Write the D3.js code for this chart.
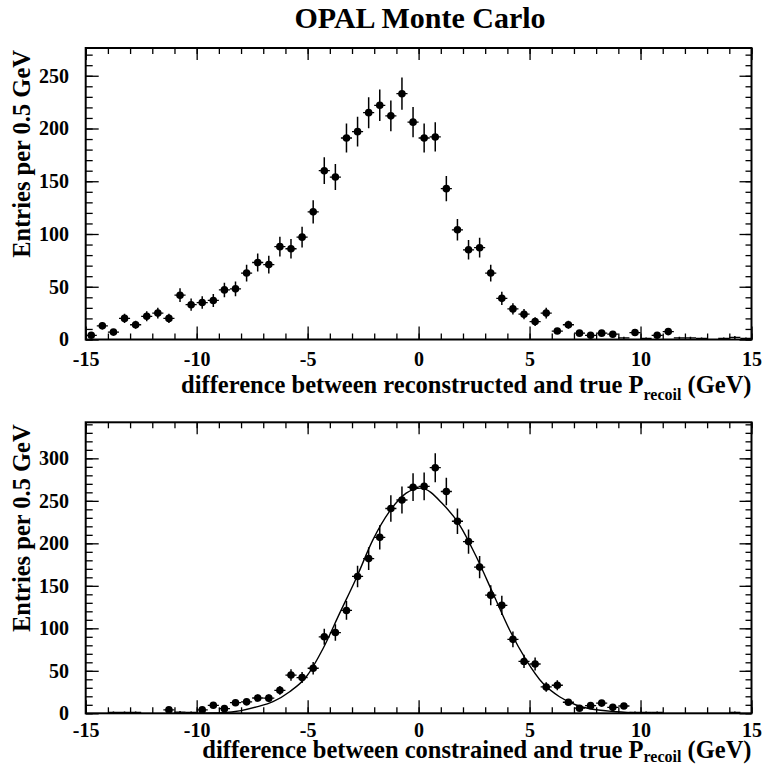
<!DOCTYPE html>
<html><head><meta charset="utf-8">
<script src="https://cdn.jsdelivr.net/npm/d3@7"></script>
<style>
body{margin:0;background:#fff}
svg{display:block}
text{font-family:"Liberation Serif","Times New Roman",serif;font-weight:bold;fill:#000}
</style>
</head><body><svg id="c" width="762" height="765"></svg>
<script>
// ---- data ----
const title = "OPAL Monte Carlo";
const binCenters = [-14.75,-14.25,-13.75,-13.25,-12.75,-12.25,-11.75,-11.25,-10.75,-10.25,
  -9.75,-9.25,-8.75,-8.25,-7.75,-7.25,-6.75,-6.25,-5.75,-5.25,
  -4.75,-4.25,-3.75,-3.25,-2.75,-2.25,-1.75,-1.25,-0.75,-0.25,
  0.25,0.75,1.25,1.75,2.25,2.75,3.25,3.75,4.25,4.75,
  5.25,5.75,6.25,6.75,7.25,7.75,8.25,8.75,9.25,9.75,
  10.25,10.75,11.25,11.75,12.25,12.75,13.25,13.75,14.25,14.75];
const binHalfWidth = 0.25;
const topValues = [4,13,7,20,14,22,25,20,42,33,
  35,37,47,48,63,73,71,88,86,97,
  121,160,154,191,197,215,222,212,233,206,
  191,192,143,104,85,87,63,39,29,24,
  17,25,8,14,6,4,6,5,1.5,6.6,
  1,4,7.5,1.5,1.5,1,0,1,2,1];
const bottomValues = [0,0,1,1,1,0,0,4,1.5,1,
  4,9.4,5.5,12.5,13.5,18,17.8,27,45,42,
  53,90,95,121,161,182,207,241,251,266,
  267,289,261,226,202,172,139,127,87,61,
  58,31,33,13,6,9,12,7,8.6,1,
  1,1,0,0,0,0,0,0,1,0];
// fitted curve of the lower panel
const fitX = [-11,-10,-8.8,-8,-7.3,-6.56,-5.81,-5.06,-4.31,-3.56,-2.81,-2.06,-1.31,-0.56,0.1,1.1,1.85,2.6,3.35,4.1,4.85,5.6,6.35,7.1,7.85,8.9,10,11];
const fitY = [0.05,0.2,0.8,3.2,7.5,13.7,25.4,43,76,117.6,159,204,237.5,259,265,246,221.5,184.2,141.2,98,62.7,35.3,19.5,9.8,4.7,1.9,0.5,0.1];
const xMajorTicks = [-15,-10,-5,0,5,10,15];
const topYTicks = [0,50,100,150,200,250];
const bottomYTicks = [0,50,100,150,200,250,300];
const topXTitle = ["difference between reconstructed and true P","recoil"," (GeV)"];
const bottomXTitle = ["difference between constrained and true P","recoil"," (GeV)"];
const yTitle = "Entries per 0.5 GeV";

// ---- layout ----
const svg = d3.select("#c");
const L = 85.7, R = 751.5;
const panels = [
  {top:48, bottom:339.5, ymax:276.3, values:topValues, yTicks:topYTicks, xTitle:topXTitle, labPad:12.3, titleY:393, subDy:7, fit:false},
  {top:422.3, bottom:713.3, ymax:342.4, values:bottomValues, yTicks:bottomYTicks, xTitle:bottomXTitle, labPad:10, titleY:757.5, subDy:4.5, fit:true}
];

svg.append("text").attr("x", 420).attr("y", 28).attr("text-anchor","middle")
  .style("font-size","30px").text(title);

panels.forEach((p, pi) => {
  const x = d3.scaleLinear().domain([-15, 15]).range([L, R]);
  const y = d3.scaleLinear().domain([0, p.ymax]).range([p.bottom, p.top]);
  const g = svg.append("g");
  const xMinor = d3.range(-15, 15.01, 1);
  const yMinor = d3.range(0, p.ymax, 10);
  const H = p.bottom - p.top, W = R - L;

  const tickStyle = sel => { sel.select(".domain").remove(); sel.selectAll("line").attr("stroke","#000").attr("stroke-width",1.3); sel.selectAll("text").remove(); };
  // bottom & top ticks
  g.append("g").attr("transform",`translate(0,${p.bottom})`).call(d3.axisBottom(x).tickValues(xMinor).tickSize(-6)).call(tickStyle);
  g.append("g").attr("transform",`translate(0,${p.bottom})`).call(d3.axisBottom(x).tickValues(xMajorTicks).tickSize(-13)).call(tickStyle);
  g.append("g").attr("transform",`translate(0,${p.top})`).call(d3.axisTop(x).tickValues(xMinor).tickSize(-6)).call(tickStyle);
  g.append("g").attr("transform",`translate(0,${p.top})`).call(d3.axisTop(x).tickValues(xMajorTicks).tickSize(-12)).call(tickStyle);
  // left & right ticks
  g.append("g").attr("transform",`translate(${L},0)`).call(d3.axisLeft(y).tickValues(yMinor).tickSize(-7)).call(tickStyle);
  g.append("g").attr("transform",`translate(${L},0)`).call(d3.axisLeft(y).tickValues(p.yTicks).tickSize(-13)).call(tickStyle);
  g.append("g").attr("transform",`translate(${R},0)`).call(d3.axisRight(y).tickValues(yMinor).tickSize(-6)).call(tickStyle);
  g.append("g").attr("transform",`translate(${R},0)`).call(d3.axisRight(y).tickValues(p.yTicks).tickSize(-12)).call(tickStyle);

  // tick labels
  const xl = g.append("g").attr("transform",`translate(0,${p.bottom})`)
    .call(d3.axisBottom(x).tickValues(xMajorTicks).tickSize(0).tickPadding(p.labPad).tickFormat(d => String(d)));
  xl.select(".domain").remove();
  xl.selectAll("text").style("font-size","20px").attr("fill","#000");
  const yl = g.append("g").attr("transform",`translate(${L},0)`)
    .call(d3.axisLeft(y).tickValues(p.yTicks).tickSize(0).tickPadding(16.7).tickFormat(d => String(d)));
  yl.select(".domain").remove();
  yl.selectAll("text").style("font-size","20px").attr("fill","#000");

  // frame
  g.append("rect").attr("x",L).attr("y",p.top).attr("width",W).attr("height",H)
    .attr("fill","none").attr("stroke","#000").attr("stroke-width",2);

  // clip
  const cid = "clip"+pi;
  svg.append("clipPath").attr("id",cid).append("rect").attr("x",L).attr("y",p.top).attr("width",W).attr("height",H);
  const dg = g.append("g").attr("clip-path",`url(#${cid})`);

  const pts = binCenters.map((c,i) => ({c, v:p.values[i]})).filter(d => d.v > 0);
  // horizontal bars
  dg.selectAll("line.h").data(pts).join("line").attr("class","h")
    .attr("x1", d => x(d.c - binHalfWidth)).attr("x2", d => x(d.c + binHalfWidth))
    .attr("y1", d => y(d.v)).attr("y2", d => y(d.v))
    .attr("stroke","#000").attr("stroke-width",1.3);
  // vertical error bars
  dg.selectAll("line.v").data(pts).join("line").attr("class","v")
    .attr("x1", d => x(d.c)).attr("x2", d => x(d.c))
    .attr("y1", d => y(Math.max(0, d.v - Math.sqrt(d.v)))).attr("y2", d => y(d.v + Math.sqrt(d.v)))
    .attr("stroke","#000").attr("stroke-width",1.5);
  // markers
  dg.selectAll("circle").data(pts.filter(d => d.v > 2)).join("circle")
    .attr("cx", d => x(d.c)).attr("cy", d => y(d.v)).attr("r", 3.8).attr("fill","#000");

  if (p.fit) {
    const line = d3.line().x(d => x(d[0])).y(d => y(d[1])).curve(d3.curveMonotoneX);
    dg.append("path").datum(fitX.map((v,i) => [v, fitY[i]])).attr("d", line)
      .attr("fill","none").attr("stroke","#000").attr("stroke-width",1.4);
  }

  // x title
  const t = svg.append("text").attr("x", R).attr("y", p.titleY).attr("text-anchor","end").style("font-size","24.5px");
  t.append("tspan").text(p.xTitle[0]);
  t.append("tspan").attr("dy", p.subDy).style("font-size","16px").text(p.xTitle[1]);
  t.append("tspan").attr("dy", -p.subDy).text(p.xTitle[2]);

  // y title
  svg.append("text").attr("transform",`translate(30,${p.top+2}) rotate(-90)`).attr("text-anchor","end")
    .style("font-size","24.5px").text(yTitle);
});
</script>
</body></html>
